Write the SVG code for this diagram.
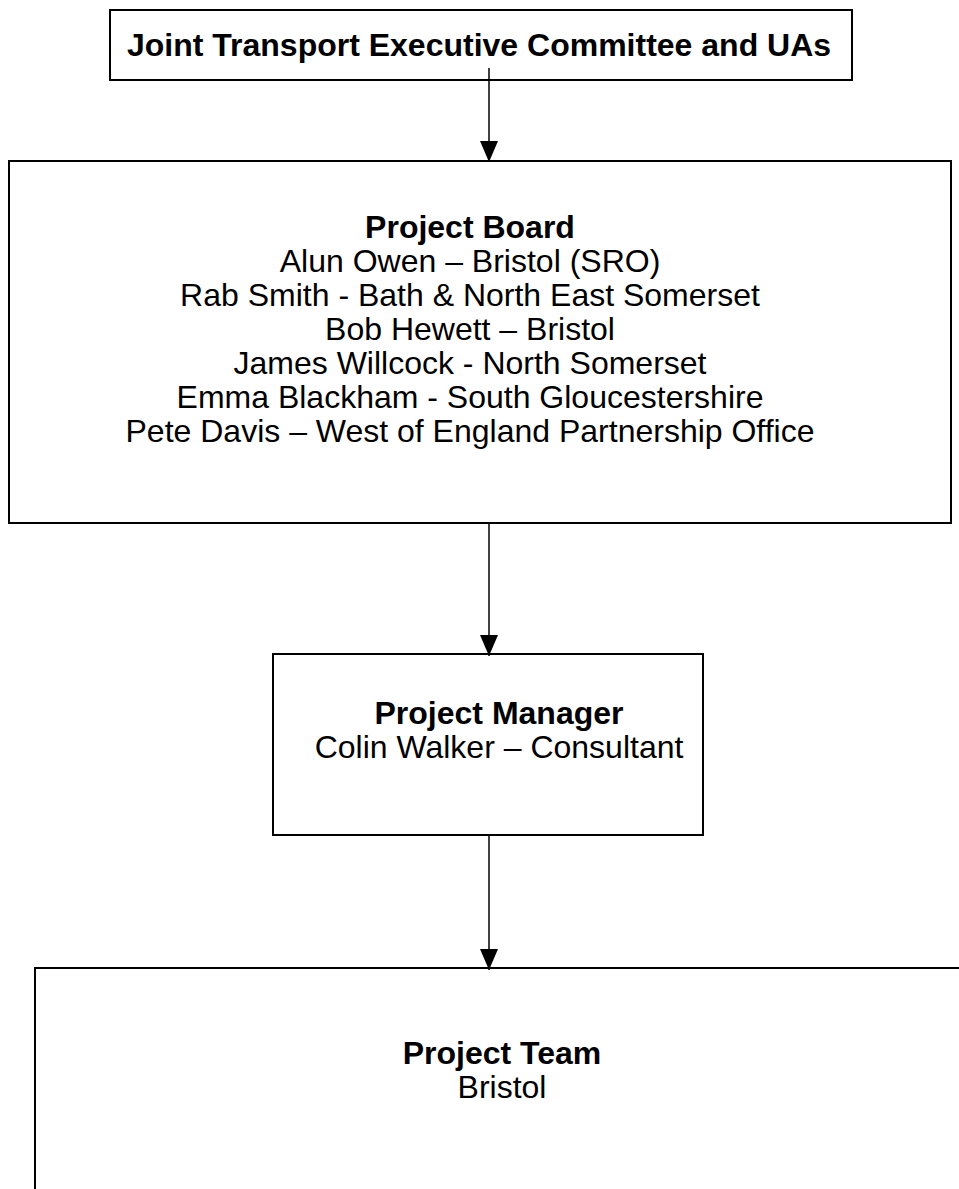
<svg xmlns="http://www.w3.org/2000/svg" width="959" height="1189" viewBox="0 0 959 1189">
<defs>
<style>
.box{fill:#fff;stroke:#000;stroke-width:2}
.t{font-family:"Liberation Sans",Arial,sans-serif;font-size:32px;fill:#000;text-anchor:middle}
.b{font-weight:bold}
.c{stroke:#000;stroke-width:1.5;fill:none}
</style>
<marker id="ah" markerUnits="userSpaceOnUse" markerWidth="22" markerHeight="20" refX="21" refY="9" orient="auto">
<path d="M0,0 L21,9 L0,18 Z" fill="#000"/>
</marker>
</defs>
<rect width="959" height="1189" fill="#fff"/>
<g id="n1">
<rect class="box" x="110" y="10" width="742" height="70"/>
<text class="t b" x="479" y="56">Joint Transport Executive Committee and UAs</text>
</g>
<g id="n2">
<rect class="box" x="9" y="161" width="942" height="362"/>
<text class="t b" x="470" y="238">Project Board</text>
<text class="t" x="470" y="272">Alun Owen – Bristol (SRO)</text>
<text class="t" x="470" y="306">Rab Smith - Bath &amp; North East Somerset</text>
<text class="t" x="470" y="340">Bob Hewett – Bristol</text>
<text class="t" x="470" y="374">James Willcock - North Somerset</text>
<text class="t" x="470" y="408">Emma Blackham - South Gloucestershire</text>
<text class="t" x="470" y="442">Pete Davis – West of England Partnership Office</text>
</g>
<g id="n3">
<rect class="box" x="273" y="654" width="430" height="181"/>
<text class="t b" x="499" y="724">Project Manager</text>
<text class="t" x="499" y="758">Colin Walker – Consultant</text>
</g>
<g id="n4">
<rect class="box" x="35" y="968" width="940" height="240"/>
<text class="t b" x="502" y="1064">Project Team</text>
<text class="t" x="502" y="1098">Bristol</text>
</g>
<g id="connectors">
<line class="c" x1="489" y1="68" x2="489" y2="162" marker-end="url(#ah)"/>
<line class="c" x1="489" y1="523" x2="489" y2="656" marker-end="url(#ah)"/>
<line class="c" x1="489" y1="835" x2="489" y2="970" marker-end="url(#ah)"/>
</g>
</svg>
